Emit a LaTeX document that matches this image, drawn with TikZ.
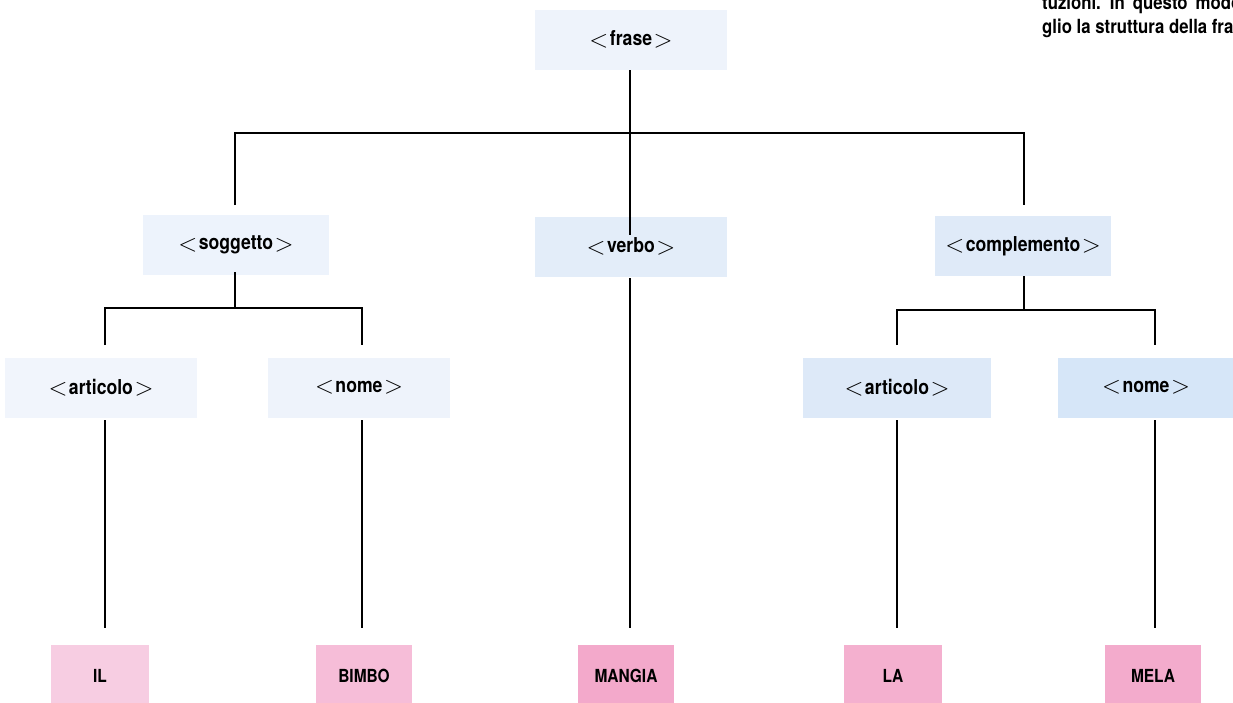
\documentclass[tikz,border=0pt]{standalone}
\usepackage{fontspec}
\setmainfont[FakeStretch=0.86]{TeX Gyre Heros}
\newcommand{\bigang}[1]{\raisebox{-1.5pt}{\fontsize{29}{29}\selectfont$#1$}}
\newcommand{\lab}[1]{\raisebox{3pt}{\bigang{<}\kern1.5pt#1\kern1.5pt\bigang{>}}}
\begin{document}
\begin{tikzpicture}[x=1pt,y=-1pt,
  lbl/.style={inner sep=0pt, font=\fontsize{20.5}{23}\selectfont\bfseries},
  bluebox/.style={lbl, minimum height=60pt},
  leaf/.style={inner sep=0pt, minimum height=62pt, font=\fontsize{18}{21}\selectfont\bfseries},
  conn/.style={line width=1.8pt, black},
  note/.style={inner sep=0pt, anchor=base west, font=\fontsize{19.5}{22}\selectfont\bfseries}]
\useasboundingbox (0,0) rectangle (1233,702);
% boxes
\node[bluebox, fill={rgb,255:red,238;green,243;blue,251}, minimum width=192pt] (frase) at (631,40) {\lab{frase}};
\node[bluebox, fill={rgb,255:red,237;green,243;blue,252}, minimum width=186pt] (soggetto) at (236,245) {\lab{soggetto}};
\node[bluebox, fill={rgb,255:red,227;green,237;blue,249}, minimum width=192pt] (verbo) at (631,247) {\lab{verbo}};
\node[bluebox, fill={rgb,255:red,223;green,234;blue,248}, minimum width=176pt] (complemento) at (1023,246) {\lab{complemento}};
\node[bluebox, fill={rgb,255:red,241;green,245;blue,252}, minimum width=192pt] (art1) at (101,388) {\lab{articolo}};
\node[bluebox, fill={rgb,255:red,238;green,243;blue,251}, minimum width=182pt] (nome1) at (359,388) {\lab{nome}};
\node[bluebox, fill={rgb,255:red,221;green,233;blue,248}, minimum width=188pt] (art2) at (897,388) {\lab{articolo}};
\node[bluebox, fill={rgb,255:red,214;green,230;blue,248}, minimum width=176pt] (nome2) at (1146,388) {\lab{nome}};
% leaves
\node[leaf, fill={rgb,255:red,247;green,205;blue,226}, minimum width=98pt] (il) at (100,676) {IL};
\node[leaf, fill={rgb,255:red,246;green,189;blue,216}, minimum width=96pt] (bimbo) at (364,676) {BIMBO};
\node[leaf, fill={rgb,255:red,243;green,169;blue,203}, minimum width=96pt] (mangia) at (626,676) {MANGIA};
\node[leaf, fill={rgb,255:red,244;green,176;blue,207}, minimum width=98pt] (la) at (893,676) {LA};
\node[leaf, fill={rgb,255:red,243;green,171;blue,204}, minimum width=96pt] (mela) at (1153,676) {MELA};
% junction coordinates
\coordinate (j0) at (630,133);
\coordinate (j1) at (235,308);
\coordinate (j2) at (1024,310);
% connectors
\draw[conn] (630,70) -- (630,235);
\draw[conn] (235,205) |- (j0) -| (1024,205);
\draw[conn] (235,272) -- (j1);
\draw[conn] (105,345) |- (j1) -| (362,345);
\draw[conn] (1024,276) -- (j2);
\draw[conn] (897,345) |- (j2) -| (1155,345);
\draw[conn] (630,278) -- (630,628);
\draw[conn] (105,420) -- (105,628);
\draw[conn] (362,420) -- (362,628);
\draw[conn] (897,420) -- (897,628);
\draw[conn] (1155,420) -- (1155,628);
% cropped caption text (justified, cut at the page edge)
\node[note] (n1) at (1042,9) {tuzioni.\hspace{9pt}In\hspace{8pt}questo\hspace{8pt}modo};
\node[note] (n2) at (1042,33) {glio la struttura della frase};
\end{tikzpicture}
\end{document}
